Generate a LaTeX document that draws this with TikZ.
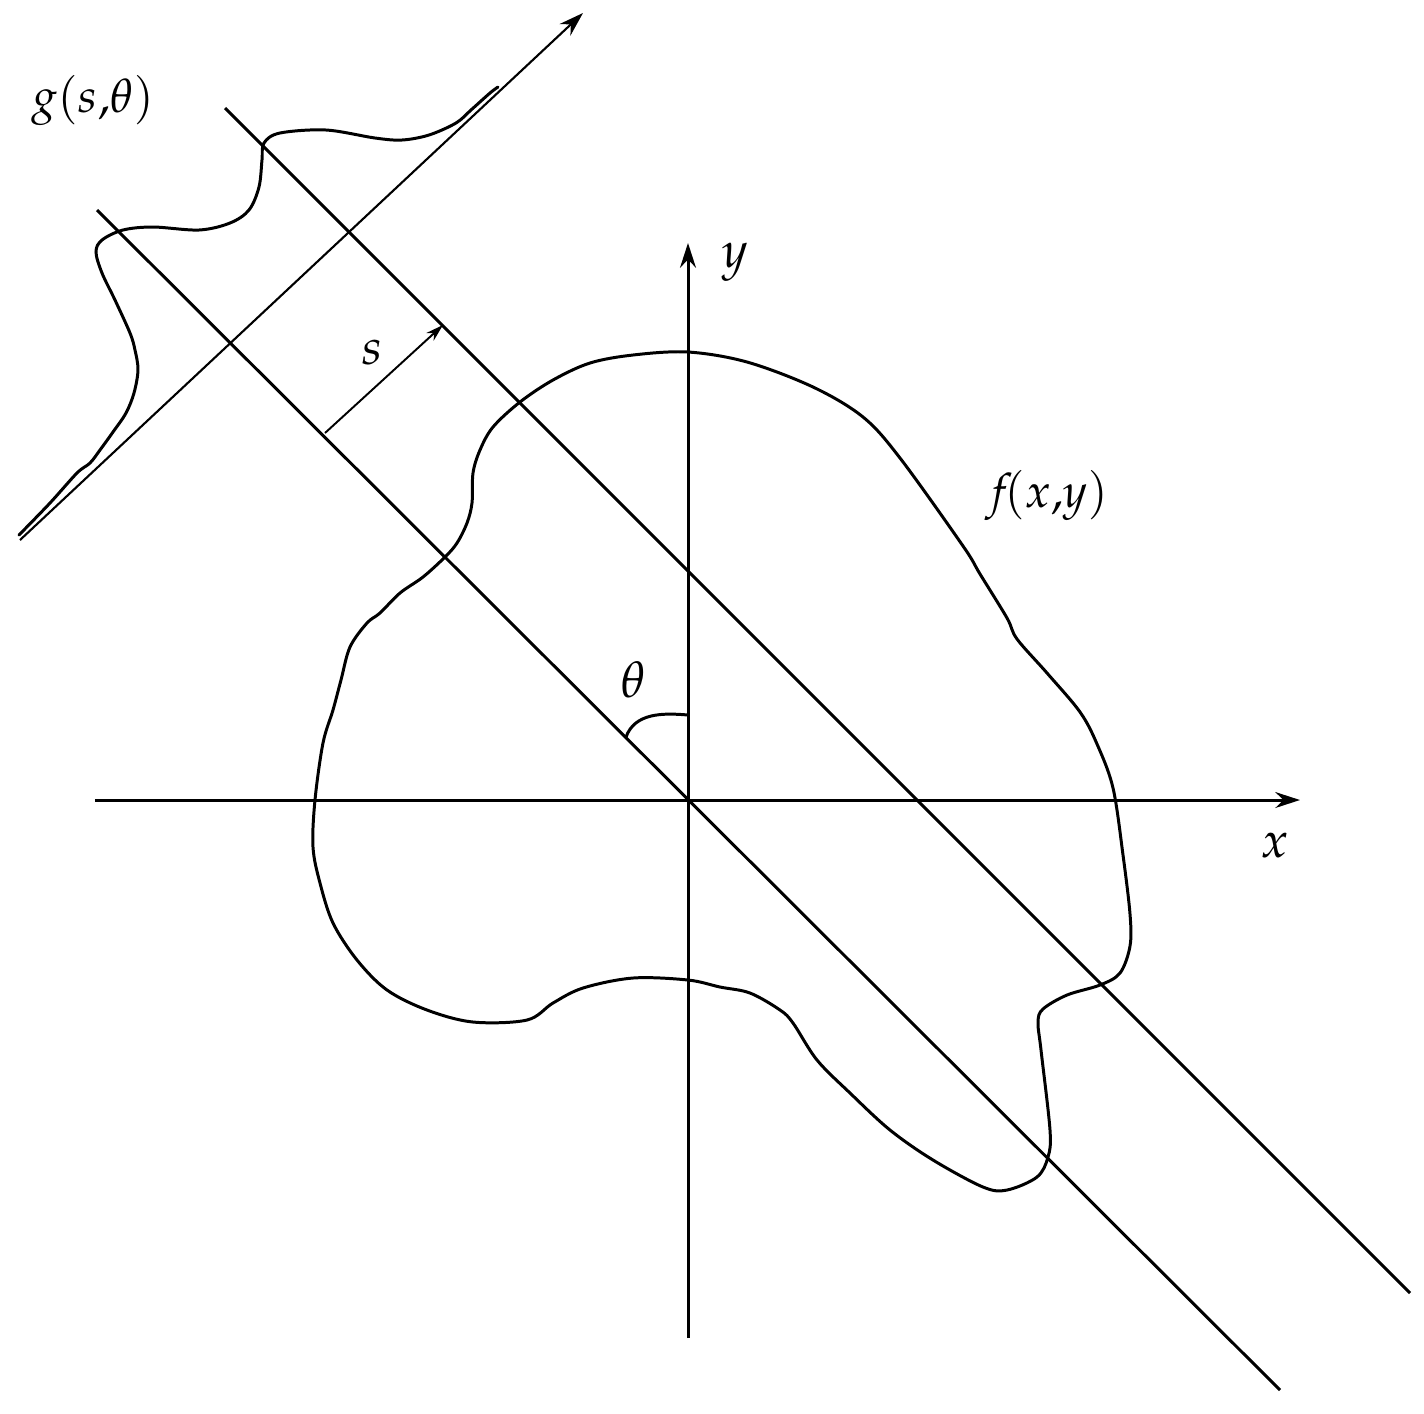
\documentclass[tikz,border=0pt]{standalone}
\usepackage{amsmath}
\usepackage{mathpazo}
\usetikzlibrary{arrows.meta}

\begin{document}
\begin{tikzpicture}[
    line width=0.85pt,
    axis/.style={-{Stealth[length=7pt,width=4.5pt]}},
    thin arrow/.style={line width=0.55pt,-{Stealth[length=5pt,width=3pt]}},
    lbl/.style={font=\Large},
    fnlbl/.style={font=\fontsize{13.5}{16}\selectfont}
  ]
  \useasboundingbox (-6.88,-6.13) rectangle (7.36,8.00);
  \coordinate (o) at (0,0);
  \coordinate (xl) at (-5.93,0);
  \coordinate (xr) at (6.12,0);
  \coordinate (yb) at (0,-5.38);
  \coordinate (yt) at (0,5.57);
  \coordinate (la) at (-5.91,5.90);
  \coordinate (lb) at (5.92,-5.90);
  \coordinate (ma) at (-4.63,6.92);
  \coordinate (mb) at (7.22,-4.93);
  \coordinate (sa) at (-6.68,2.60);
  \coordinate (sb) at (-1.05,7.87);
  \coordinate (s1) at (-3.63,3.67);
  \coordinate (s2) at (-2.45,4.75);
  \coordinate (t1) at (0,0.85);
  \coordinate (t2) at (-0.62,0.63);

  \node [lbl] (xlab) at (5.87,-0.45) {$x$};
  \node [lbl] (ylab) at (0.47,5.38) {$y$};
  \node [lbl] (thlab) at (-0.55,1.20) {$\theta$};
  \node [lbl] (slab) at (-3.16,4.48) {$s$};
  \node [fnlbl] (flab) at (3.59,3.05) {$f\!(x{,}y)$};
  \node [fnlbl] (glab) at (-5.95,7.00) {$g(s{,}\theta)$};

  \draw [axis] (xl) -- (xr);
  \draw [axis] (yb) -- (yt);
  \draw (la) -- (lb);
  \draw (ma) -- (mb);
  \draw [axis,line width=0.6pt] (sa) -- (sb);
  \draw [thin arrow] (s1) -- (s2);
  \draw (t1) to[out=175,in=70] (t2);

  \draw [line cap=round] plot [smooth cycle, tension=0.55] coordinates {
    (0,4.48) (0.59,4.38) (1.25,4.13) (1.75,3.83) (2.12,3.42) (2.75,2.54)
    (2.92,2.26) (3.19,1.82) (3.29,1.61) (3.59,1.27) (3.92,0.88) (4.09,0.56)
    (4.25,0.12) (4.35,-0.55) (4.42,-1.14) (4.42,-1.46) (4.32,-1.73) (4.12,-1.85)
    (3.79,-1.95) (3.55,-2.09) (3.50,-2.22) (3.53,-2.50) (3.62,-3.30) (3.60,-3.57)
    (3.49,-3.77) (3.19,-3.90) (2.95,-3.87) (2.45,-3.60) (2.02,-3.30) (1.62,-2.93)
    (1.29,-2.60) (1.05,-2.23) (0.92,-2.10) (0.62,-1.93) (0.32,-1.87) (0,-1.80)
    (-0.55,-1.78) (-1.05,-1.88) (-1.35,-2.03) (-1.61,-2.20) (-2.15,-2.22) (-2.61,-2.10)
    (-3.01,-1.90) (-3.31,-1.60) (-3.55,-1.23) (-3.68,-0.83) (-3.75,-0.47) (-3.73,0)
    (-3.65,0.57) (-3.55,0.90) (-3.47,1.20) (-3.38,1.53) (-3.21,1.77) (-3.08,1.87)
    (-2.88,2.07) (-2.65,2.23) (-2.43,2.43) (-2.31,2.57) (-2.21,2.77) (-2.16,2.97)
    (-2.15,3.27) (-2.08,3.50) (-1.95,3.73) (-1.68,3.98) (-1.35,4.20) (-0.98,4.37)
    (-0.55,4.45)};

  \draw [line cap=round] plot [smooth, tension=0.55] coordinates {
    (-6.69,2.65) (-6.38,2.97) (-6.11,3.27) (-5.98,3.37) (-5.88,3.50) (-5.75,3.68)
    (-5.62,3.87) (-5.54,4.07) (-5.50,4.30) (-5.53,4.50) (-5.58,4.67) (-5.73,5.00)
    (-5.86,5.27) (-5.92,5.48) (-5.86,5.60) (-5.65,5.70) (-5.35,5.73) (-4.89,5.70)
    (-4.58,5.77) (-4.39,5.90) (-4.29,6.13) (-4.26,6.40) (-4.24,6.57) (-4.08,6.67)
    (-3.62,6.70) (-3.13,6.62) (-2.86,6.60) (-2.59,6.65) (-2.32,6.77) (-2.17,6.90)
    (-1.98,7.07) (-1.90,7.13)};
\end{tikzpicture}
\end{document}
